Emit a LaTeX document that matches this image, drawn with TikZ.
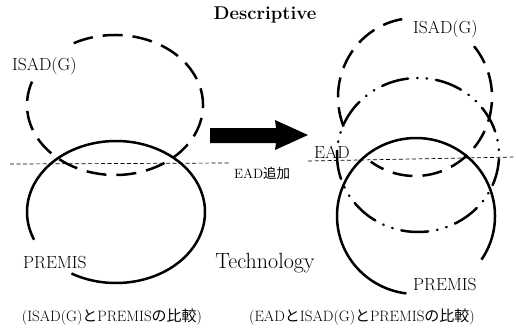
\documentclass[tikz,border=0pt]{standalone}
\usepackage{fontspec}
\newfontfamily\jp{Noto Sans CJK JP}
\begin{document}
\begin{tikzpicture}[x=1pt,y=-1pt, line join=round, font=\fontsize{17.5}{20}\selectfont,
  curve/.style={line width=2.5pt},
  isad/.style={curve, dash pattern=on 20pt off 10pt},
  ead/.style={curve, line cap=round, dash pattern=on 27pt off 9pt on 0.5pt off 9pt on 0.5pt off 9pt},
  split/.style={line width=0.7pt, dash pattern=on 4pt off 2.5pt},
  lbl/.style={inner sep=0pt, anchor=base west}]
\useasboundingbox (0,0) rectangle (516,327);
% left: ISAD(G) and PREMIS
\coordinate (isadL) at (115,105);
\coordinate (premisL) at (116,212);
\draw[isad] (isadL) ++(-118:88 and 70) arc[start angle=-118,end angle=200,x radius=88,y radius=70];
\draw[curve] (premisL) ++(120:89 and 71) arc[start angle=120,end angle=-203,x radius=89,y radius=71];
\draw[split] (10,164)--(230,163);
% right: EAD added
\coordinate (isadR) at (415,97);
\coordinate (eadR) at (418,155);
\coordinate (premisR) at (416,216);
\draw[isad] (isadR) ++(-40:77 and 79) arc[start angle=-40,end angle=125,x radius=77,y radius=79];
\draw[isad] (isadR) ++(158:77 and 79) arc[start angle=158,end angle=263,x radius=77,y radius=79];
\draw[ead] (eadR) ++(182:81 and 77) arc[start angle=182,end angle=-178,x radius=81,y radius=77];
\draw[curve] (premisR) ++(34:79 and 78) arc[start angle=34,end angle=-263,x radius=79,y radius=78];
\draw[split] (308,161)--(516,157);
\fill (210,128)--(276,128)--(275,120)--(308,135)--(275,150)--(276,143)--(210,143)--cycle;
\node[font=\bfseries\fontsize{18.5}{20}\selectfont] (desc) at (265,15) {Descriptive};
\node[anchor=base, font=\fontsize{22}{24}\selectfont] (tech) at (265,268) {Technology};
\node[lbl] (isadl) at (12,70) {ISAD(G)};
\node[lbl] (premisl) at (23,268) {PREMIS};
\node[lbl] (isadr) at (413,33) {ISAD(G)};
\node[lbl] (premisr) at (413,290) {PREMIS};
\node[lbl] (ead) at (314,158) {EAD};
\node[lbl, font=\fontsize{13.5}{15}\selectfont] (eadadd) at (234,178) {EAD{\jp 追加}};
\node[anchor=base, font=\fontsize{15}{17}\selectfont] (capl) at (112,321) {(ISAD(G){\jp と}PREMIS{\jp の比較})};
\node[anchor=base, font=\fontsize{15}{17}\selectfont] (capr) at (362,321) {(EAD{\jp と}ISAD(G){\jp と}PREMIS{\jp の比較})};
\end{tikzpicture}
\end{document}
